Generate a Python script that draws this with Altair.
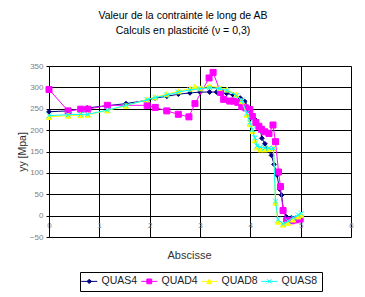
import altair as alt
import pandas as pd

series_names = ["QUAS4", "QUAD4", "QUAD8", "QUAS8"]
series_colors = ["#000080", "#FF00FF", "#FFFF00", "#00FFFF"]

quas4_x = [0, 0.38, 0.76, 1.53, 1.95, 2.11, 2.34, 2.57, 2.8, 3.0, 3.19, 3.33, 3.53, 3.66, 3.8, 3.89,
           3.98, 4.1, 4.19, 4.23, 4.29, 4.35, 4.42, 4.47, 4.53, 4.58, 4.62, 4.66, 4.72, 4.82, 4.9, 4.99]
quas4_y = [243, 245, 252, 262, 270, 275, 279, 284, 287, 289, 289, 289, 286, 282, 275, 267,
           251, 224, 206, 181, 168, 152, 141, 120, 95, 62, 48, 12, -3, -5, -6, -4]

quad4_x = [0, 0.38, 0.63, 0.77, 1.16, 1.95, 2.11, 2.34, 2.57, 2.78, 2.9, 3.18, 3.26, 3.41, 3.47,
           3.59, 3.67, 3.75, 3.83, 3.91, 3.99, 4.04, 4.11, 4.17, 4.22, 4.29, 4.37, 4.45, 4.5,
           4.56, 4.6, 4.65, 4.72, 4.82, 4.9, 4.99]
quad4_y = [295, 245, 249, 249, 258, 258, 253, 245, 237, 231, 262, 322, 335, 288, 272,
           268, 268, 265, 255, 252, 248, 232, 218, 209, 202, 196, 192, 212, 173,
           102, 68, 12, -12, -12, -10, -8]

quad8_x = [0, 0.38, 0.63, 0.77, 1.16, 1.53, 1.95, 2.11, 2.34, 2.57, 2.8, 2.9, 3.0, 3.19, 3.39,
           3.54, 3.72, 3.83, 3.93, 3.99, 4.04, 4.09, 4.13, 4.2, 4.29, 4.37, 4.46, 4.5, 4.55,
           4.65, 4.75, 4.85, 4.95, 5.01]
quad8_y = [231, 234, 235, 236, 246, 257, 272, 277, 284, 291, 297, 302, 298, 303, 299,
           295, 283, 268, 236, 214, 198, 176, 160, 155, 155, 156, 158, 30, -14,
           -21, -17, -9, -2, 2]

quas8_x = [0, 0.38, 0.63, 0.77, 1.16, 1.53, 1.95, 2.11, 2.34, 2.57, 2.8, 3.0, 3.19, 3.39, 3.54,
           3.72, 3.83, 3.93, 3.99, 4.04, 4.09, 4.13, 4.2, 4.29, 4.37, 4.46, 4.5, 4.55, 4.65,
           4.75, 4.85, 4.95, 5.01]
quas8_y = [234, 236, 237, 237, 247, 258, 271, 276, 282, 289, 294, 297, 299, 297, 293,
           281, 270, 240, 218, 202, 182, 163, 160, 158, 158, 157, 34, -9, -19,
           -13, -5, 2, 5]

x_ticks = [0, 1, 2, 3, 4, 5, 6]
y_ticks = [-50, 0, 50, 100, 150, 200, 250, 300, 350]

rows = []
for name, xs, ys in [("QUAS4", quas4_x, quas4_y), ("QUAD4", quad4_x, quad4_y),
                     ("QUAD8", quad8_x, quad8_y), ("QUAS8", quas8_x, quas8_y)]:
    for i, (a, b) in enumerate(zip(xs, ys)):
        rows.append({"serie": name, "x": a, "y": b, "i": i})
df = pd.DataFrame(rows)

marker_paths = [
    "M0,-1L1,0L0,1L-1,0Z",
    "M-1,-1H1V1H-1Z",
    "M0,-1L1,1H-1Z",
    "M-1,-1L1,1M-1,1L1,-1",
]
marker_sizes = [22, 36, 26, 26]
legend_paths = [
    "M-2,0H2M0,-0.55L0.55,0L0,0.55L-0.55,0Z",
    "M-2,0H2M-0.6,-0.6H0.6V0.6H-0.6Z",
    "M-2,0H2M0,-0.6L0.6,0.6H-0.6Z",
    "M-2,0H2M-0.55,-0.55L0.55,0.55M-0.55,0.55L0.55,-0.55",
]
shape_sig = " : ".join(
    [f"datum.value === '{n}' ? '{p}'" for n, p in zip(series_names, legend_paths)]
) + " : 'circle'"
color_sig = " : ".join(
    [f"datum.value === '{n}' ? '{c}'" for n, c in zip(series_names, series_colors)]
) + " : 'black'"

color_scale = alt.Scale(domain=series_names, range=series_colors)

xenc = alt.X("x:Q", scale=alt.Scale(domain=[0, 6], nice=False, zero=False),
             axis=alt.Axis(values=x_ticks, title="Abscisse", grid=True, gridColor="black",
                           gridOpacity=1, gridWidth=1, domain=False, ticks=False,
                           offset=-21.4, labelPadding=6, labelFontSize=8, labelColor="#808080",
                           labelFont="Liberation Sans", titleFont="Liberation Sans",
                           titleFontSize=11, titleFontWeight="normal", titleColor="#333333",
                           titlePadding=20, titleX=140, labelFlush=False))
yenc = alt.Y("y:Q", scale=alt.Scale(domain=[-50, 350], nice=False, zero=False),
             axis=alt.Axis(values=y_ticks, title="yy [Mpa]", grid=True, gridColor="black",
                           gridOpacity=1, gridWidth=1, domain=True, domainColor="black",
                           ticks=True, tickSize=3, tickColor="black", labelFontSize=8,
                           labelColor="#808080", labelFont="Liberation Sans",
                           titleFont="Liberation Sans", titleFontSize=10.5,
                           titleFontWeight="normal", titleColor="#333333", titlePadding=2,
                           labelPadding=3))

legend = alt.Legend(
    title=None, orient="none", legendX=31, legendY=206, direction="horizontal",
    columns=4, strokeColor="black", padding=4, labelFontSize=10.5,
    labelFont="Liberation Sans", labelColor="#222222", symbolSize=64, labelOffset=7,
    columnPadding=1,
    symbolType=alt.ExprRef(expr=shape_sig),
    symbolFillColor=alt.ExprRef(expr=color_sig),
    symbolStrokeColor=alt.ExprRef(expr=color_sig),
    symbolStrokeWidth=1, symbolOpacity=1,
)

layers = []
for idx, name in enumerate(series_names):
    base = alt.Chart(df).transform_filter(alt.datum.serie == name)
    line = base.mark_line(strokeWidth=1).encode(
        x=xenc, y=yenc, order="i:Q",
        color=alt.Color("serie:N", scale=color_scale, legend=legend),
    )
    pts = base.mark_point(
        filled=True, strokeWidth=1, opacity=1,
        shape=marker_paths[idx], size=marker_sizes[idx],
        fill=series_colors[idx], stroke=series_colors[idx],
    ).encode(x=xenc, y=yenc)
    layers += [line, pts]

chart = alt.layer(*layers).properties(
    width=302, height=171,
    autosize=alt.AutoSizeParams(type="none"),
    padding={"left": 49, "top": 66, "right": 14, "bottom": 60},
    title=alt.Title(["Valeur de la contrainte le long de AB", "Calculs en plasticité (ν = 0,3)"],
                    font="Liberation Sans", fontSize=10.5, fontWeight="normal", color="black",
                    anchor="middle", dx=-17, offset=26, lineHeight=15),
).configure_view(stroke="black", strokeWidth=1).configure(background="white")

chart.save("out.html", embed_options={"renderer": "svg", "actions": False})
